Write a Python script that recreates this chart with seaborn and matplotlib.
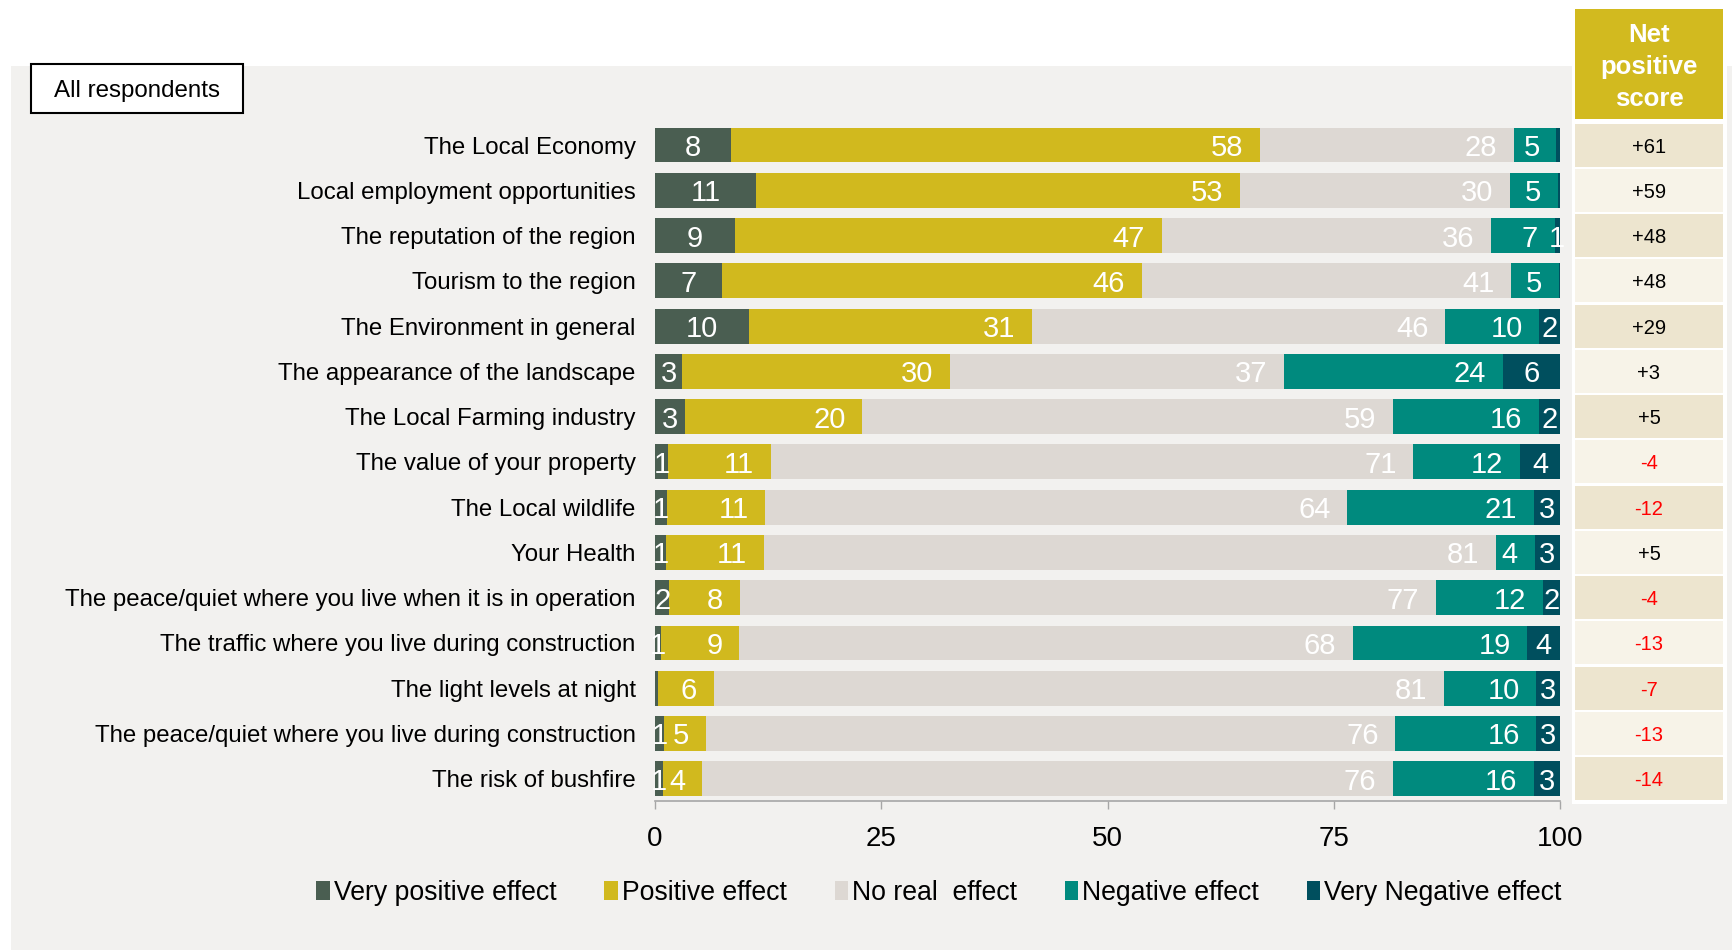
import numpy as np
import pandas as pd
import seaborn as sns
import matplotlib.pyplot as plt
from matplotlib.patches import Rectangle, Patch

# data (percent of respondents)
categories = [
    'The Local Economy',
    'Local employment opportunities',
    'The reputation of the region',
    'Tourism to the region',
    'The Environment in general',
    'The appearance of the landscape',
    'The Local Farming industry',
    'The value of your property',
    'The Local wildlife',
    'Your Health',
    'The peace/quiet where you live when it is in operation',
    'The traffic where you live during construction',
    'The light levels at night',
    'The peace/quiet where you live during construction',
    'The risk of bushfire',
]
very_positive = [8.4, 11.2, 8.8, 7.4, 10.4, 3.0, 3.3, 1.4, 1.3, 1.2, 1.6, 0.7, 0.3, 1.0, 0.9]
positive = [58.4, 53.4, 47.2, 46.4, 31.3, 29.6, 19.6, 11.4, 10.9, 10.8, 7.8, 8.6, 6.2, 4.6, 4.3]
no_effect = [28.1, 29.9, 36.4, 40.8, 45.6, 36.9, 58.6, 71.0, 64.3, 80.9, 76.9, 67.8, 80.7, 76.2, 76.3]
negative = [4.7, 5.3, 7.0, 5.3, 10.4, 24.2, 16.2, 11.8, 20.6, 4.3, 11.8, 19.3, 10.2, 15.6, 15.6]
very_negative = [0.4, 0.2, 0.6, 0.1, 2.3, 6.3, 2.3, 4.4, 2.9, 2.8, 1.9, 3.6, 2.6, 2.6, 2.9]
net_score = [61, 59, 48, 48, 29, 3, 5, -4, -12, 5, -4, -13, -7, -13, -14]

series = ['Very positive effect', 'Positive effect', 'No real  effect',
          'Negative effect', 'Very Negative effect']
colors = ['#4A5E51', '#D1B91E', '#DDD8D3', '#008A7E', '#004F5E']
# where the number sits inside the segment
label_pos = ['center', 'end', 'end', 'end', 'center']

W, H = 1732, 950
plt.rcParams['font.family'] = ['Liberation Sans', 'DejaVu Sans']

df = pd.DataFrame({'category': categories})
for name, vals in zip(series, [very_positive, positive, no_effect, negative, very_negative]):
    df[name] = vals
cum = df[series].cumsum(axis=1)
for name in series:
    df['cum_' + name] = cum[name]

fig = plt.figure(figsize=(W / 100, H / 100), dpi=100, facecolor='white')

# light grey panel behind everything
fig.patches.append(Rectangle((11 / W, 0), 1 - 11 / W, (H - 66) / H, transform=fig.transFigure,
                             facecolor='#F2F1EF', edgecolor='none', zorder=-3))

ax_bottom = (H - 801.4) / H
ax_height = (801.4 - 122.4) / H
ax = fig.add_axes([655 / W, ax_bottom, 905 / W, ax_height])
ax.set_facecolor('none')

# stacked bars: draw cumulative totals from the longest down
for name, c in reversed(list(zip(series, colors))):
    sns.barplot(data=df, x='cum_' + name, y='category', color=c, saturation=1,
                width=0.77, orient='h', ax=ax, edgecolor='none')

for i in range(len(categories)):
    left = 0
    for name, pos in zip(series, label_pos):
        v = df.loc[i, name]
        if v >= 0.5:
            if pos == 'center':
                ax.text(left + v / 2, i, f'{v:.0f}', ha='center', va='center_baseline',
                        color='white', fontsize=21)
            else:
                ax.annotate(f'{v:.0f}', (left + v, i), xytext=(-12, 0),
                            textcoords='offset points', ha='right', va='center_baseline',
                            color='white', fontsize=21)
        left += v

ax.set_xlim(0, 100)
ax.set_ylim(len(categories) - 0.5, -0.5)
ax.set_xticks([0, 25, 50, 75, 100])
ax.set_xlabel('')
ax.set_ylabel('')
for s in ['top', 'right', 'left']:
    ax.spines[s].set_visible(False)
ax.spines['bottom'].set_color('#A6A6A6')
ax.spines['bottom'].set_linewidth(1.2)
ax.tick_params(axis='x', length=6, color='#A6A6A6', width=1, pad=11.5, labelsize=20)
ax.tick_params(axis='y', length=0, pad=14, labelsize=17.3)

# legend
handles = [Patch(facecolor=c, edgecolor='none') for c in colors]
fig.legend(handles, series, loc='center', bbox_to_anchor=(939 / W, (H - 893) / H), ncol=5,
           frameon=False, handlelength=0.5, handleheight=0.7, handletextpad=0.15,
           columnspacing=1.8, prop={'size': 19.2})

# "All respondents" box
fig.patches.append(Rectangle((31 / W, (H - 113) / H), 212 / W, 49 / H, transform=fig.transFigure,
                             facecolor='white', edgecolor='black', linewidth=1.5, zorder=2))
fig.text(137 / W, (H - 89) / H, 'All respondents', ha='center', va='center_baseline',
         fontsize=17.4, zorder=3)

# net positive score column
fig.patches.append(Rectangle((1572 / W, (H - 804) / H), 155 / W, (804 - 66) / H,
                             transform=fig.transFigure, facecolor='white', edgecolor='none', zorder=-2))
fig.patches.append(Rectangle((1575 / W, (H - 119) / H), 148 / W, 110 / H, transform=fig.transFigure,
                             facecolor='#D2BA1F', edgecolor='none', zorder=2))
fig.text(1649 / W, (H - 67) / H, 'Net\npositive\nscore', ha='center', va='center', color='white',
         fontsize=18.5, fontweight='bold', linespacing=1.43, zorder=3)

net_ax = fig.add_axes([1575 / W, ax_bottom, 148 / W, ax_height])
net_ax.set_xlim(0, 1)
net_ax.set_ylim(len(categories) - 0.5, -0.5)
net_ax.axis('off')
for i, score in enumerate(net_score):
    cell = '#EDE5CF' if i % 2 == 0 else '#F7F3E8'
    net_ax.add_patch(Rectangle((0, i - 0.475), 1, 0.95, facecolor=cell, edgecolor='none'))
    net_ax.text(0.5, i, f'{score:+d}', ha='center', va='center_baseline', fontsize=14.5,
                color='black' if score >= 0 else '#FF0000')

fig.savefig('out.png', dpi=100, facecolor='white')
